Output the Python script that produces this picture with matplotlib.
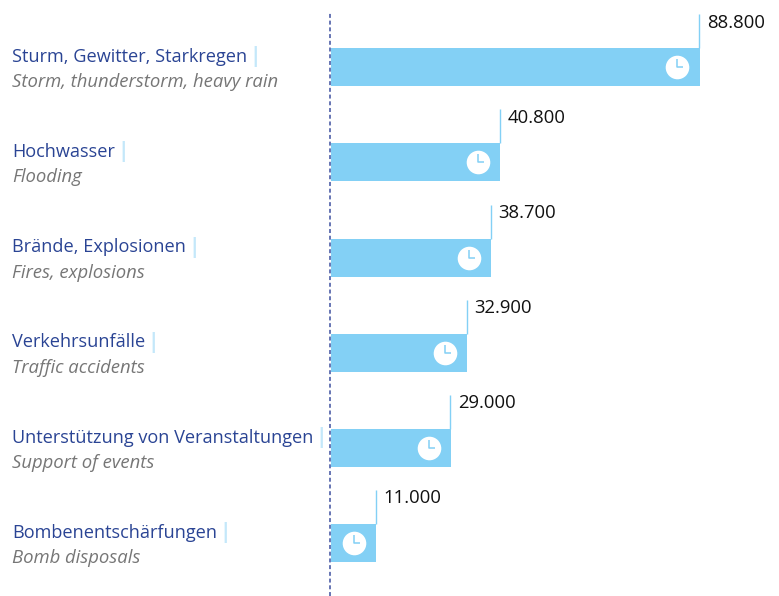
import matplotlib
matplotlib.use('Agg')
import matplotlib.pyplot as plt
from matplotlib.path import Path
from matplotlib.transforms import offset_copy

labels_de = ['Sturm, Gewitter, Starkregen', 'Hochwasser', 'Brände, Explosionen',
             'Verkehrsunfälle', 'Unterstützung von Veranstaltungen', 'Bombenentschärfungen']
labels_en = ['Storm, thunderstorm, heavy rain', 'Flooding', 'Fires, explosions',
             'Traffic accidents', 'Support of events', 'Bomb disposals']
values = [88800, 40800, 38700, 32900, 29000, 11000]
value_labels = ['88.800', '40.800', '38.700', '32.900', '29.000', '11.000']

BAR = '#83d0f5'
BLUE = '#2a4494'
GREY = '#767676'

plt.rcParams['font.family'] = ['Open Sans', 'DejaVu Sans']

W, H = 779, 596
fig = plt.figure(figsize=(W / 100, H / 100), dpi=100)
ax = fig.add_axes([0, 0, 1, 1])
ax.axis('off')

# pixel scale
px_x = 1000 / 4.16
px_y = 1 / 95.2
ax.set_xlim(-330.5 * px_x, (W - 330.5) * px_x)
ax.set_ylim((H - 67.3) * px_y, -67.3 * px_y)

y = list(range(len(values)))
ax.barh(y, values, height=38 * px_y, color=BAR, linewidth=0, zorder=2)
ax.axvline(-0.8 * px_x, ymin=0, ymax=1 - 12 / H, color='#3d4f9f', lw=1.1, ls=(0, (2.6, 1.8)), zorder=3)

hands = Path([(0, 0.8), (0, 0), (0.6, 0)], [Path.MOVETO, Path.LINETO, Path.LINETO])
clock_tf = offset_copy(ax.transData, fig=fig, x=-22.5 * 0.72, y=0, units='points')

for i, v in enumerate(values):
    # thin tick above the bar end, value next to it
    ax.plot([v - 0.7 * px_x] * 2, [i - 19 * px_y, i - 53 * px_y], color=BAR, lw=1.0, zorder=2,
            solid_capstyle='butt')
    ax.annotate(value_labels[i], xy=(v, i - 44.8 * px_y), xytext=(5, 0),
                textcoords='offset points', fontsize=13.3, color='#111111',
                va='center', ha='left')

    # clock icon
    ax.plot([v], [i], marker='o', ms=17, mfc='white', mec='none', transform=clock_tf, zorder=4)
    ax.plot([v], [i], marker=hands, ms=11.5, mfc='none', mec=BAR, mew=1.1, transform=clock_tf, zorder=5)

    # category labels, pixel offsets from the row centre
    lab = ax.annotate(labels_de[i], xy=(0, i), xycoords=('axes fraction', 'data'),
                      xytext=(12 * 0.72, 10.5 * 0.72), textcoords='offset points',
                      fontsize=13.1, color=BLUE, va='center', ha='left')
    ax.annotate('|', xy=(1, 0.5), xycoords=lab, xytext=(1.5, 0), textcoords='offset points',
                fontsize=15, color='#c4e8fa', fontweight='bold', va='center', ha='left')
    ax.annotate(labels_en[i], xy=(0, i), xycoords=('axes fraction', 'data'),
                xytext=(12 * 0.72, -15 * 0.72), textcoords='offset points',
                fontsize=13.3, color=GREY, style='italic', va='center', ha='left')

fig.savefig('out.png', dpi=100)
